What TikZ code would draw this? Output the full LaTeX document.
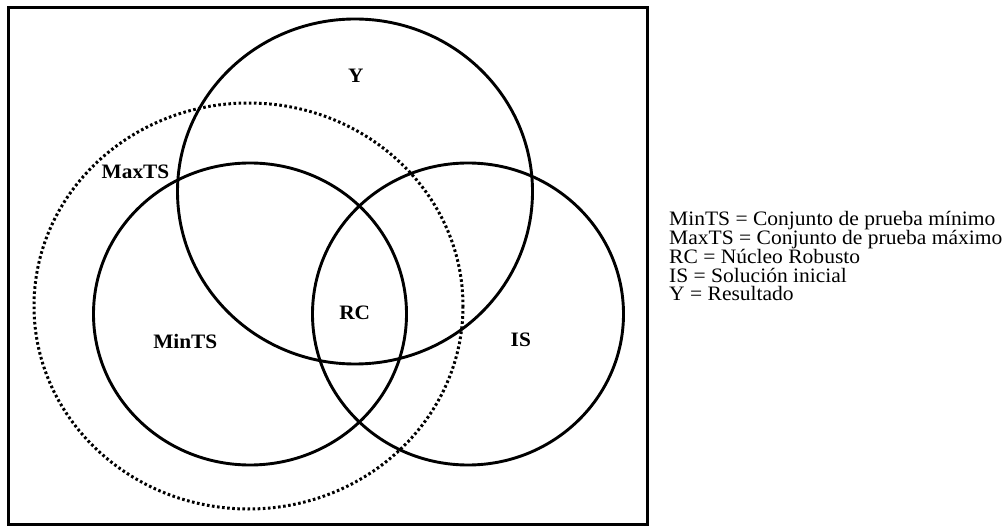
\documentclass[tikz,border=0pt]{standalone}
\usepackage{fontspec}
\setmainfont{Liberation Serif}
\begin{document}
\begin{tikzpicture}[x=1pt,y=-1pt,
  setline/.style={draw=black,line width=2.9pt},
  dotline/.style={draw=black,line width=3pt,dash pattern=on 2.6pt off 2.5pt},
  setlabel/.style={inner sep=0pt,font=\fontsize{20.5}{20.5}\selectfont\bfseries},
  legendline/.style={inner sep=0pt,anchor=base west,font=\fontsize{20.5}{20.5}\selectfont}]
  \useasboundingbox (0,0) rectangle (1007,526);
  % outer frame
  \draw[line width=3pt] (8,8) rectangle (647,524);
  % the sets
  \draw[setline] (355,191.5) ellipse [x radius=177.5, y radius=172.5];
  \draw[setline] (250,314) ellipse [x radius=156.5, y radius=151];
  \draw[setline] (468,314) ellipse [x radius=155.5, y radius=151];
  \draw[dotline] (248.5,306) ellipse [x radius=214.5, y radius=203];
  % set labels
  \node[setlabel] (lY) at (355.7,75.5) {\scalebox{1.04}[1]{Y}};
  \node[setlabel] (lMax) at (135.5,172) {\scalebox{1.04}[1]{MaxTS}};
  \node[setlabel] (lMin) at (185.3,341.3) {\scalebox{1.04}[1]{MinTS}};
  \node[setlabel] (lRC) at (354.7,313.3) {\scalebox{1.04}[1]{RC}};
  \node[setlabel] (lIS) at (520.8,340.3) {\scalebox{1.04}[1]{IS}};
  % legend
  \node[legendline] (g1) at (669,225.7) {\scalebox{1.05}[1]{MinTS = Conjunto de prueba mínimo}};
  \node[legendline] (g2) at (669,244.5) {\scalebox{1.05}[1]{MaxTS = Conjunto de prueba máximo}};
  \node[legendline] (g3) at (669,263.3) {\scalebox{1.05}[1]{RC = Núcleo Robusto}};
  \node[legendline] (g4) at (669,282.2) {\scalebox{1.05}[1]{IS = Solución inicial}};
  \node[legendline] (g5) at (669,301) {\scalebox{1.05}[1]{Y = Resultado}};
\end{tikzpicture}
\end{document}
